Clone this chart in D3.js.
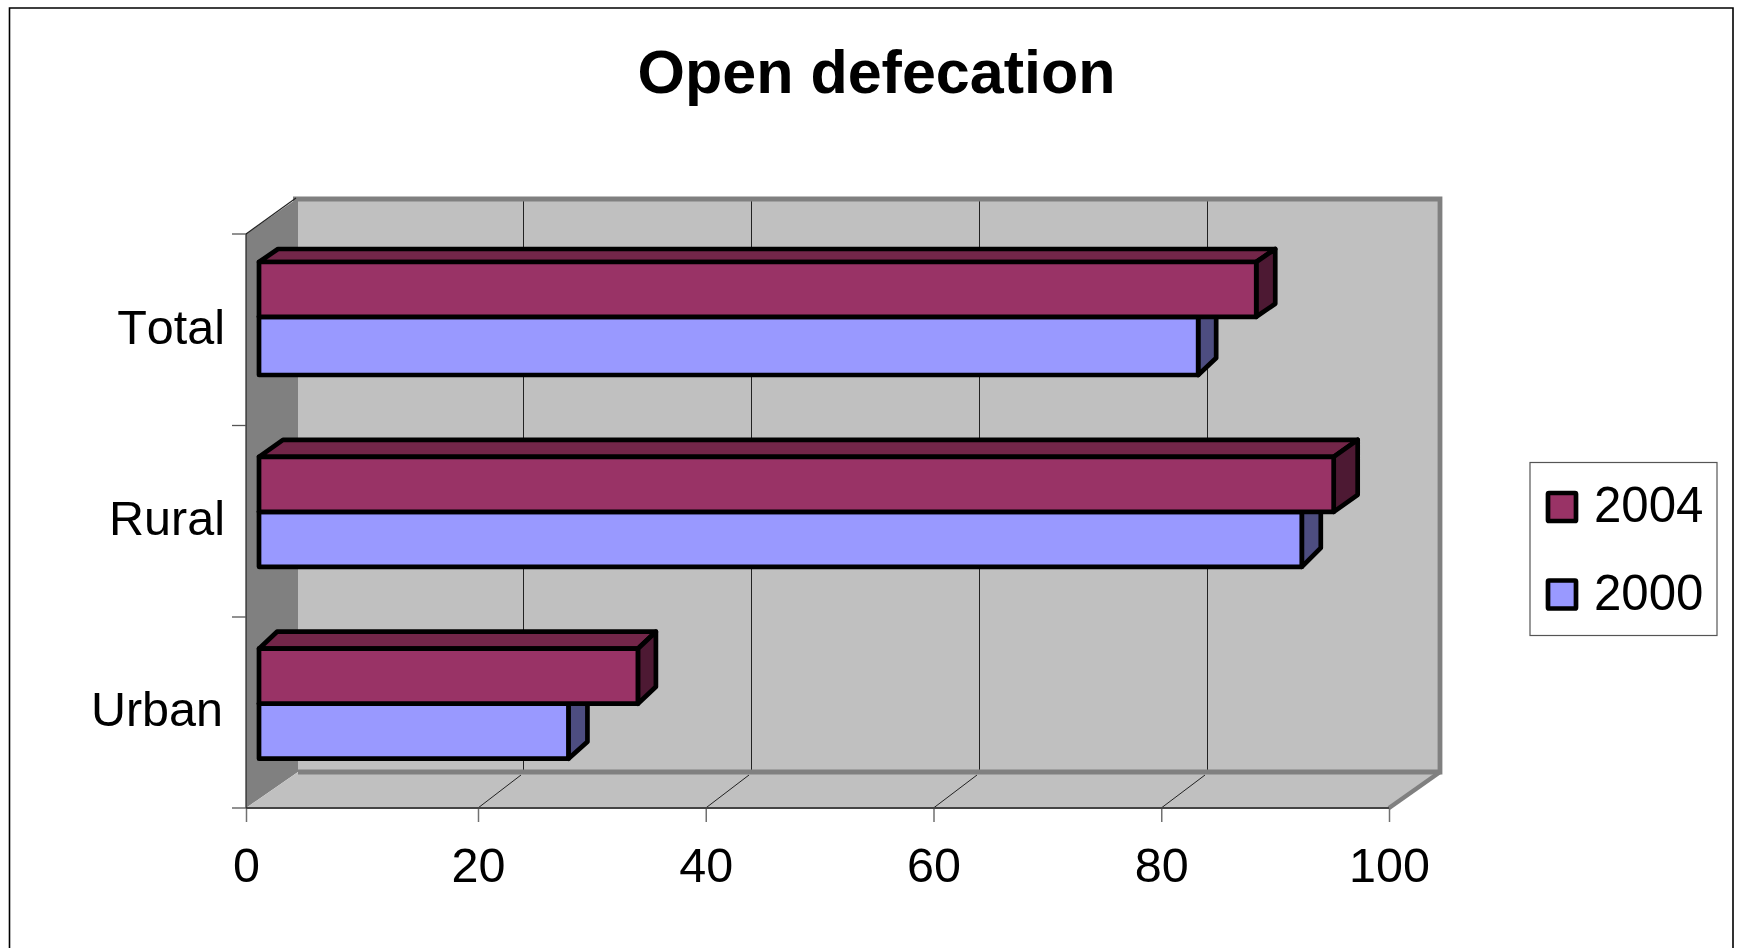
<!DOCTYPE html>
<html><head><meta charset="utf-8">
<script src="https://cdn.jsdelivr.net/npm/d3@7"></script>
<style>html,body{margin:0;background:#fff}svg{display:block}text{font-family:"Liberation Sans",Arial,sans-serif;fill:#000;font-kerning:none}</style>
</head><body><svg id="c" width="1742" height="948"></svg>
<script>
const titleText = "Open defecation";
const categories = ["Total", "Rural", "Urban"];
const seriesNames = ["2004", "2000"];
const values2004 = [87.2, 94.0, 32.9];
const values2000 = [82.1, 91.2, 26.8];
const xTicks = [0, 20, 40, 60, 80, 100];

const svg = d3.select("#c");
const x = d3.scaleLinear().domain([0, 20, 100]).range([246, 478, 1389]);
const xBack = d3.scaleLinear().domain([0, 100]).range([295, 1435]);
const y = d3.scaleBand().domain(categories).range([234, 808]);
const colors = {
  "2004": {front: "#993366", top: "#732649", side: "#4d1933"},
  "2000": {front: "#9999ff", top: "#7373bf", side: "#4d4d80"}
};
const wall = {top: 199, bottom: 772, left: 298, right: 1440};
const floorFront = 808;
const textSize = 48.5;

// frame
svg.append("path").attr("d", "M9.5,960V8H1733V960").attr("fill", "#fff").attr("stroke", "#000").attr("stroke-width", 1.6);

// title
svg.append("text").attr("x", 876.5).attr("y", 92.5).attr("text-anchor", "middle")
  .attr("font-size", 61).attr("font-weight", "bold").text(titleText);

// walls
const poly = (pts, fill) => svg.append("polygon").attr("points", pts.join(" ")).attr("fill", fill);
poly([[wall.left, wall.top], [wall.right, wall.top], [wall.right, wall.bottom], [wall.left, wall.bottom]], "#c0c0c0");
poly([[x(0), y("Total")], [wall.left, wall.top - 1], [wall.left, wall.bottom], [x(0), floorFront]], "#808080");
poly([[x(0), floorFront], [wall.left, wall.bottom], [wall.right, wall.bottom], [x(100), floorFront]], "#c0c0c0");

// gridlines on back wall and floor
const gridVals = xTicks.slice(1, -1);
svg.selectAll(".g").data(gridVals).join("line").attr("class", "g")
  .attr("x1", d => xBack(d) + 0.5).attr("x2", d => xBack(d) + 0.5).attr("y1", wall.top).attr("y2", wall.bottom)
  .attr("stroke", "#222").attr("stroke-width", 1);
svg.selectAll(".gf").data(gridVals).join("line").attr("class", "gf")
  .attr("x1", d => x(d)).attr("x2", d => xBack(d) - 2).attr("y1", floorFront).attr("y2", wall.bottom + 3)
  .attr("stroke", "#222").attr("stroke-width", 1);

// wall borders
svg.append("path").attr("d", `M${wall.left - 5},${wall.top}H${wall.right}V${wall.bottom}H${wall.left}`)
  .attr("fill", "none").attr("stroke", "#808080").attr("stroke-width", 4.8);
svg.append("line").attr("x1", x(100)).attr("y1", floorFront).attr("x2", wall.right).attr("y2", wall.bottom)
  .attr("stroke", "#808080").attr("stroke-width", 4.5);
svg.append("line").attr("x1", x(0)).attr("y1", y("Total")).attr("x2", wall.left - 2).attr("y2", wall.top - 1)
  .attr("stroke", "#222").attr("stroke-width", 1.2);

// axes
const axisX = d3.axisBottom(x).tickValues(xTicks).tickSize(14).tickPadding(24).tickFormat(d3.format("d"));
const gx = svg.append("g").attr("transform", `translate(0,${floorFront})`).call(axisX);
gx.select(".domain").remove();
gx.selectAll("line").attr("stroke", "#707070").attr("stroke-width", 1.5);
gx.selectAll("text").attr("font-size", textSize).attr("font-family", '"Liberation Sans"').attr("dy", "0.75em");
svg.append("line").attr("x1", x(0)).attr("x2", x(100)).attr("y1", floorFront).attr("y2", floorFront)
  .attr("stroke", "#444").attr("stroke-width", 2.2);
svg.append("line").attr("x1", x(0)).attr("x2", x(0)).attr("y1", y("Total")).attr("y2", floorFront)
  .attr("stroke", "#222").attr("stroke-width", 1.2);
const catTickVals = [234, 425.5, 617, 808];
svg.selectAll(".ct").data(catTickVals).join("line").attr("class", "ct")
  .attr("x1", x(0) - 14).attr("x2", x(0)).attr("y1", d => d).attr("y2", d => d)
  .attr("stroke", "#555").attr("stroke-width", 1.3);

// category labels
const labelRight = {Total: 225, Rural: 225, Urban: 223};
svg.selectAll(".cl").data(categories).join("text").attr("class", "cl")
  .attr("x", d => labelRight[d]).attr("y", d => y(d) + 109.5).attr("text-anchor", "end")
  .attr("font-size", textSize).text(d => d);

// bars
const barShiftX = 13;
const barInset = {Total: 28, Rural: 31.5, Urban: 32};
const barHeights = {Total: [54.8, 58.2], Rural: [55, 55], Urban: [55, 55]};
const depth2004 = {Total: [19, -13], Rural: [24, -17], Urban: [18, -17]};
const depth2000 = {Total: [18, -17], Rural: [19, -19], Urban: [19, -17]};
const stroke = {stroke: "#000", "stroke-width": 4.7, "stroke-linejoin": "round"};

function bar(v, cat, slot, name, depth) {
  const x0 = x(0) + barShiftX, x1 = x(v) + barShiftX;
  const hs = barHeights[cat];
  const t = y(cat) + barInset[cat] + (slot ? hs[0] : 0), b = t + hs[slot];
  const [dx, dy] = depth, c = colors[name];
  const g = svg.append("g").attr("class", "bar");
  const face = (pts, fill) => {
    const p = g.append("polygon").attr("points", pts.join(" ")).attr("fill", fill);
    Object.entries(stroke).forEach(([k, val]) => p.attr(k, val));
  };
  face([[x0, t], [x0 + dx, t + dy], [x1 + dx, t + dy], [x1, t]], c.top);
  face([[x1, t], [x1 + dx, t + dy], [x1 + dx, b + dy], [x1, b]], c.side);
  face([[x0, t], [x1, t], [x1, b], [x0, b]], c.front);
}
categories.forEach((cat, i) => {
  bar(values2000[i], cat, 1, "2000", depth2000[cat]);
  bar(values2004[i], cat, 0, "2004", depth2004[cat]);
});

// legend
const lg = svg.append("g");
lg.append("rect").attr("x", 1530).attr("y", 462.5).attr("width", 187).attr("height", 173)
  .attr("fill", "#fff").attr("stroke", "#555").attr("stroke-width", 1.2);
const legendY = d3.scalePoint().domain(seriesNames).range([507, 594.5]);
seriesNames.forEach(n => {
  lg.append("rect").attr("x", 1548).attr("y", legendY(n) - 14).attr("width", 28).attr("height", 28)
    .attr("rx", 1).attr("fill", colors[n].front).attr("stroke", "#000").attr("stroke-width", 4.7);
  lg.append("text").attr("x", 1594).attr("y", legendY(n) + 15).attr("font-size", 49.2).text(n);
});
</script></body></html>
